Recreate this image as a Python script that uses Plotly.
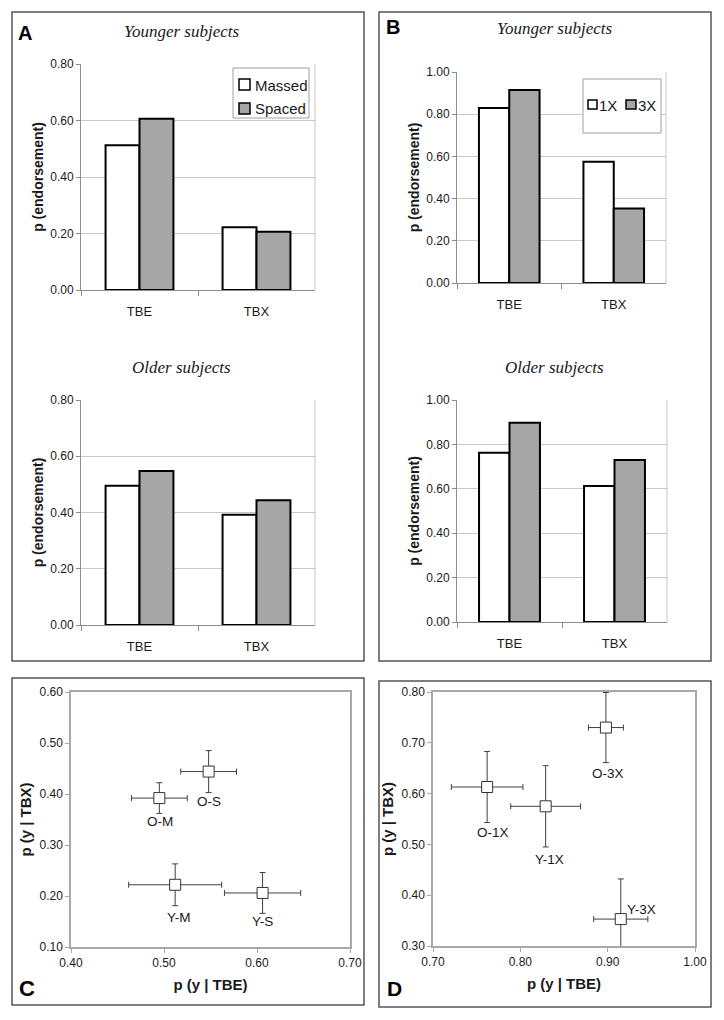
import plotly.graph_objects as go

# ---------------- data ----------------
conditions = ["TBE", "TBX"]
a_young_massed = [0.512, 0.222]
a_young_spaced = [0.606, 0.206]
a_older_massed = [0.495, 0.392]
a_older_spaced = [0.548, 0.444]
b_young_1x = [0.829, 0.575]
b_young_3x = [0.915, 0.353]
b_older_1x = [0.762, 0.613]
b_older_3x = [0.898, 0.730]

a_series = ["Massed", "Spaced"]
b_series = ["1X", "3X"]

c_labels = ["Y-M", "Y-S", "O-M", "O-S"]
c_err_x = [0.050, 0.041, 0.030, 0.030]
c_err_y = [0.041, 0.040, 0.030, 0.041]
d_labels = ["Y-1X", "Y-3X", "O-1X", "O-3X"]
d_err_x = [0.040, 0.031, 0.041, 0.020]
d_err_y = [0.080, 0.079, 0.070, 0.069]

c_x = [a_young_massed[0], a_young_spaced[0], a_older_massed[0], a_older_spaced[0]]
c_y = [a_young_massed[1], a_young_spaced[1], a_older_massed[1], a_older_spaced[1]]
d_x = [b_young_1x[0], b_young_3x[0], b_older_1x[0], b_older_3x[0]]
d_y = [b_young_1x[1], b_young_3x[1], b_older_1x[1], b_older_3x[1]]

# label offsets (px): (xshift, yshift)
c_shift = [(4, -33), (0, -29), (1, -23), (0, -30)]
d_shift = [(4, -53), (21, 10), (6, -45), (2, -46)]

# ---------------- layout helpers ----------------
# the page body adds an 8px margin, so the figure is drawn 8px smaller and
# page coordinates are converted to figure-paper coordinates here
OFF = 8
W, H = 724 - OFF, 1020 - OFF
def fx(p):
    return (p - OFF) / W
def fy(p):
    return 1 - (p - OFF) / H

SANS = "Liberation Sans, Arial, sans-serif"
SERIF = "Liberation Serif, Times New Roman, serif"
TXT = "#1a1a1a"
AXC = "#8c8c8c"
GRID = "#c8c8c8"
FRAME = "#c8c8c8"
GREY_BAR = "#a6a6a6"
SC_LINE = "#a8a8a8"

fig = go.Figure()

def add_bars(xa, ya, v1, v2, names):
    fig.add_trace(go.Bar(x=conditions, y=v1, name=names[0], xaxis=xa, yaxis=ya,
                         marker=dict(color="white", line=dict(color="black", width=2)),
                         showlegend=False, offsetgroup="1"))
    fig.add_trace(go.Bar(x=conditions, y=v2, name=names[1], xaxis=xa, yaxis=ya,
                         marker=dict(color=GREY_BAR, line=dict(color="black", width=2)),
                         showlegend=False, offsetgroup="2"))

add_bars("x", "y", a_young_massed, a_young_spaced, a_series)
add_bars("x2", "y2", a_older_massed, a_older_spaced, a_series)
add_bars("x3", "y3", b_young_1x, b_young_3x, b_series)
add_bars("x4", "y4", b_older_1x, b_older_3x, b_series)

def add_scatter(xa, ya, xs, ys, ex, ey, labels):
    fig.add_trace(go.Scatter(x=xs, y=ys, xaxis=xa, yaxis=ya, mode="markers", text=labels,
                             marker=dict(symbol="square", size=11, color="white",
                                         line=dict(color="#333333", width=1)),
                             error_x=dict(type="data", array=ex, color="#404040", thickness=1, width=3),
                             error_y=dict(type="data", array=ey, color="#404040", thickness=1, width=3),
                             showlegend=False))

add_scatter("x5", "y5", c_x, c_y, c_err_x, c_err_y, c_labels)
add_scatter("x6", "y6", d_x, d_y, d_err_x, d_err_y, d_labels)

tickfont = dict(family=SANS, size=12, color=TXT)
shapes = []

def bar_axes(n, dom_x, dom_y, ymax):
    sfx = "" if n == 1 else str(n)
    fig.layout["xaxis" + sfx] = dict(
        domain=[fx(dom_x[0]), fx(dom_x[1])], anchor="y" + sfx, automargin=False,
        showline=True, linecolor=AXC, linewidth=1, ticks="outside", ticklen=5,
        tickcolor=AXC, tickson="boundaries", showgrid=False,
        tickfont=dict(family=SANS, size=13, color=TXT), ticklabelstandoff=9)
    fig.layout["yaxis" + sfx] = dict(
        domain=[fy(dom_y[1]), fy(dom_y[0])], anchor="x" + sfx, automargin=False,
        range=[0, ymax], dtick=0.2, tickformat=".2f",
        showline=True, linecolor=AXC, linewidth=1, ticks="outside", ticklen=4,
        tickcolor=AXC, showgrid=True, gridcolor=GRID, gridwidth=1, zeroline=False,
        tickfont=tickfont,
        title=dict(text="<b>p (endorsement)</b>", font=dict(family=SANS, size=14, color=TXT), standoff=3))
    # light plot-area frame (right side)
    shapes.append(dict(type="line", xref="x" + sfx + " domain", yref="y" + sfx + " domain",
                       x0=1, x1=1, y0=0, y1=1, line=dict(color=FRAME, width=1)))

bar_axes(1, (81, 315), (64, 290), 0.8)
bar_axes(2, (81, 315), (400, 625), 0.8)
bar_axes(3, (457, 666), (72, 283), 1.0)
bar_axes(4, (457, 667), (400, 622), 1.0)

def sc_axes(n, dom_x, dom_y, xr, yr):
    sfx = str(n)
    fig.layout["xaxis" + sfx] = dict(
        domain=[fx(dom_x[0]), fx(dom_x[1])], anchor="y" + sfx, automargin=False,
        range=xr, dtick=0.1, tickformat=".2f",
        showline=True, mirror=True, linecolor=SC_LINE, linewidth=1.5, ticks="outside", ticklen=4,
        tickcolor=SC_LINE, showgrid=False, zeroline=False, tickfont=tickfont,
        title=dict(text="<b>p (y | TBE)</b>", font=dict(family=SANS, size=15, color=TXT), standoff=10))
    fig.layout["yaxis" + sfx] = dict(
        domain=[fy(dom_y[1]), fy(dom_y[0])], anchor="x" + sfx, automargin=False,
        range=yr, dtick=0.1, tickformat=".2f",
        showline=True, mirror=True, linecolor=SC_LINE, linewidth=1.5, ticks="outside", ticklen=4,
        tickcolor=SC_LINE, showgrid=False, zeroline=False, tickfont=tickfont,
        title=dict(text="<b>p (y | TBX)</b>", font=dict(family=SANS, size=15, color=TXT), standoff=4))

sc_axes(5, (71, 350), (692, 947), [0.4, 0.7], [0.1, 0.6])
sc_axes(6, (433, 695), (692, 946), [0.7, 1.0], [0.3, 0.8])

annotations = []
for xs, ys, labs, shifts, xa, ya in [(c_x, c_y, c_labels, c_shift, "x5", "y5"),
                                     (d_x, d_y, d_labels, d_shift, "x6", "y6")]:
    for xv, yv, lab, (sx, sy) in zip(xs, ys, labs, shifts):
        annotations.append(dict(x=xv, y=yv, xref=xa, yref=ya, text=lab, showarrow=False,
                                xshift=sx, yshift=sy,
                                font=dict(family=SANS, size=13.5, color=TXT)))

def paper_text(x, y, text, font, xanchor="center"):
    annotations.append(dict(x=fx(x), y=fy(y), xref="paper", yref="paper", text=text,
                            showarrow=False, xanchor=xanchor, yanchor="middle", font=font))

serif_font = dict(family=SERIF, size=17, color=TXT)
paper_text(181, 32, "<i>Younger subjects</i>", serif_font)
paper_text(554, 29, "<i>Younger subjects</i>", serif_font)
paper_text(181, 368, "<i>Older subjects</i>", serif_font)
paper_text(554, 367, "<i>Older subjects</i>", serif_font)
paper_text(25, 33, "<b>A</b>", dict(family=SANS, size=20, color="black"))
paper_text(393, 27, "<b>B</b>", dict(family=SANS, size=20, color="black"))
paper_text(27, 988, "<b>C</b>", dict(family=SANS, size=22, color="black"))
paper_text(394, 988, "<b>D</b>", dict(family=SANS, size=21, color="black"))

def rect(x0, y0, x1, y1, color, width, fill="rgba(0,0,0,0)"):
    shapes.append(dict(type="rect", xref="paper", yref="paper",
                       x0=fx(x0), x1=fx(x1), y0=fy(y1), y1=fy(y0),
                       line=dict(color=color, width=width), fillcolor=fill))

# panel frames
rect(12, 12, 364, 661, "#555555", 1.5)
rect(379, 12, 711, 661, "#555555", 1.5)
rect(12, 678, 364, 1005, "#555555", 1.5)
rect(379, 681, 711, 1007, "#555555", 1.5)

# legend A (vertical)
legend_font = dict(family=SANS, size=15, color=TXT)
rect(233, 68, 309, 118, "#a0a0a0", 1, "white")
rect(239, 79, 250, 90, "black", 1.5, "white")
rect(239, 103, 250, 114, "black", 1.5, GREY_BAR)
paper_text(253, 85, a_series[0], legend_font, "left")
paper_text(253, 109, a_series[1], legend_font, "left")

# legend B (horizontal)
rect(583, 79, 661, 133, "#a0a0a0", 1, "white")
rect(588, 100, 597, 109, "black", 1.5, "white")
rect(626, 100, 636, 109, "black", 1.5, GREY_BAR)
paper_text(597, 105, b_series[0], legend_font, "left")
paper_text(636, 105, b_series[1], legend_font, "left")

fig.update_layout(
    template="none",
    width=W, height=H, autosize=False,
    margin=dict(l=0, r=0, t=0, b=0, pad=0),
    paper_bgcolor="white", plot_bgcolor="white",
    barmode="group", bargap=0.42, bargroupgap=0,
    showlegend=False,
    annotations=annotations, shapes=shapes,
)

fig.write_html("out.html")
